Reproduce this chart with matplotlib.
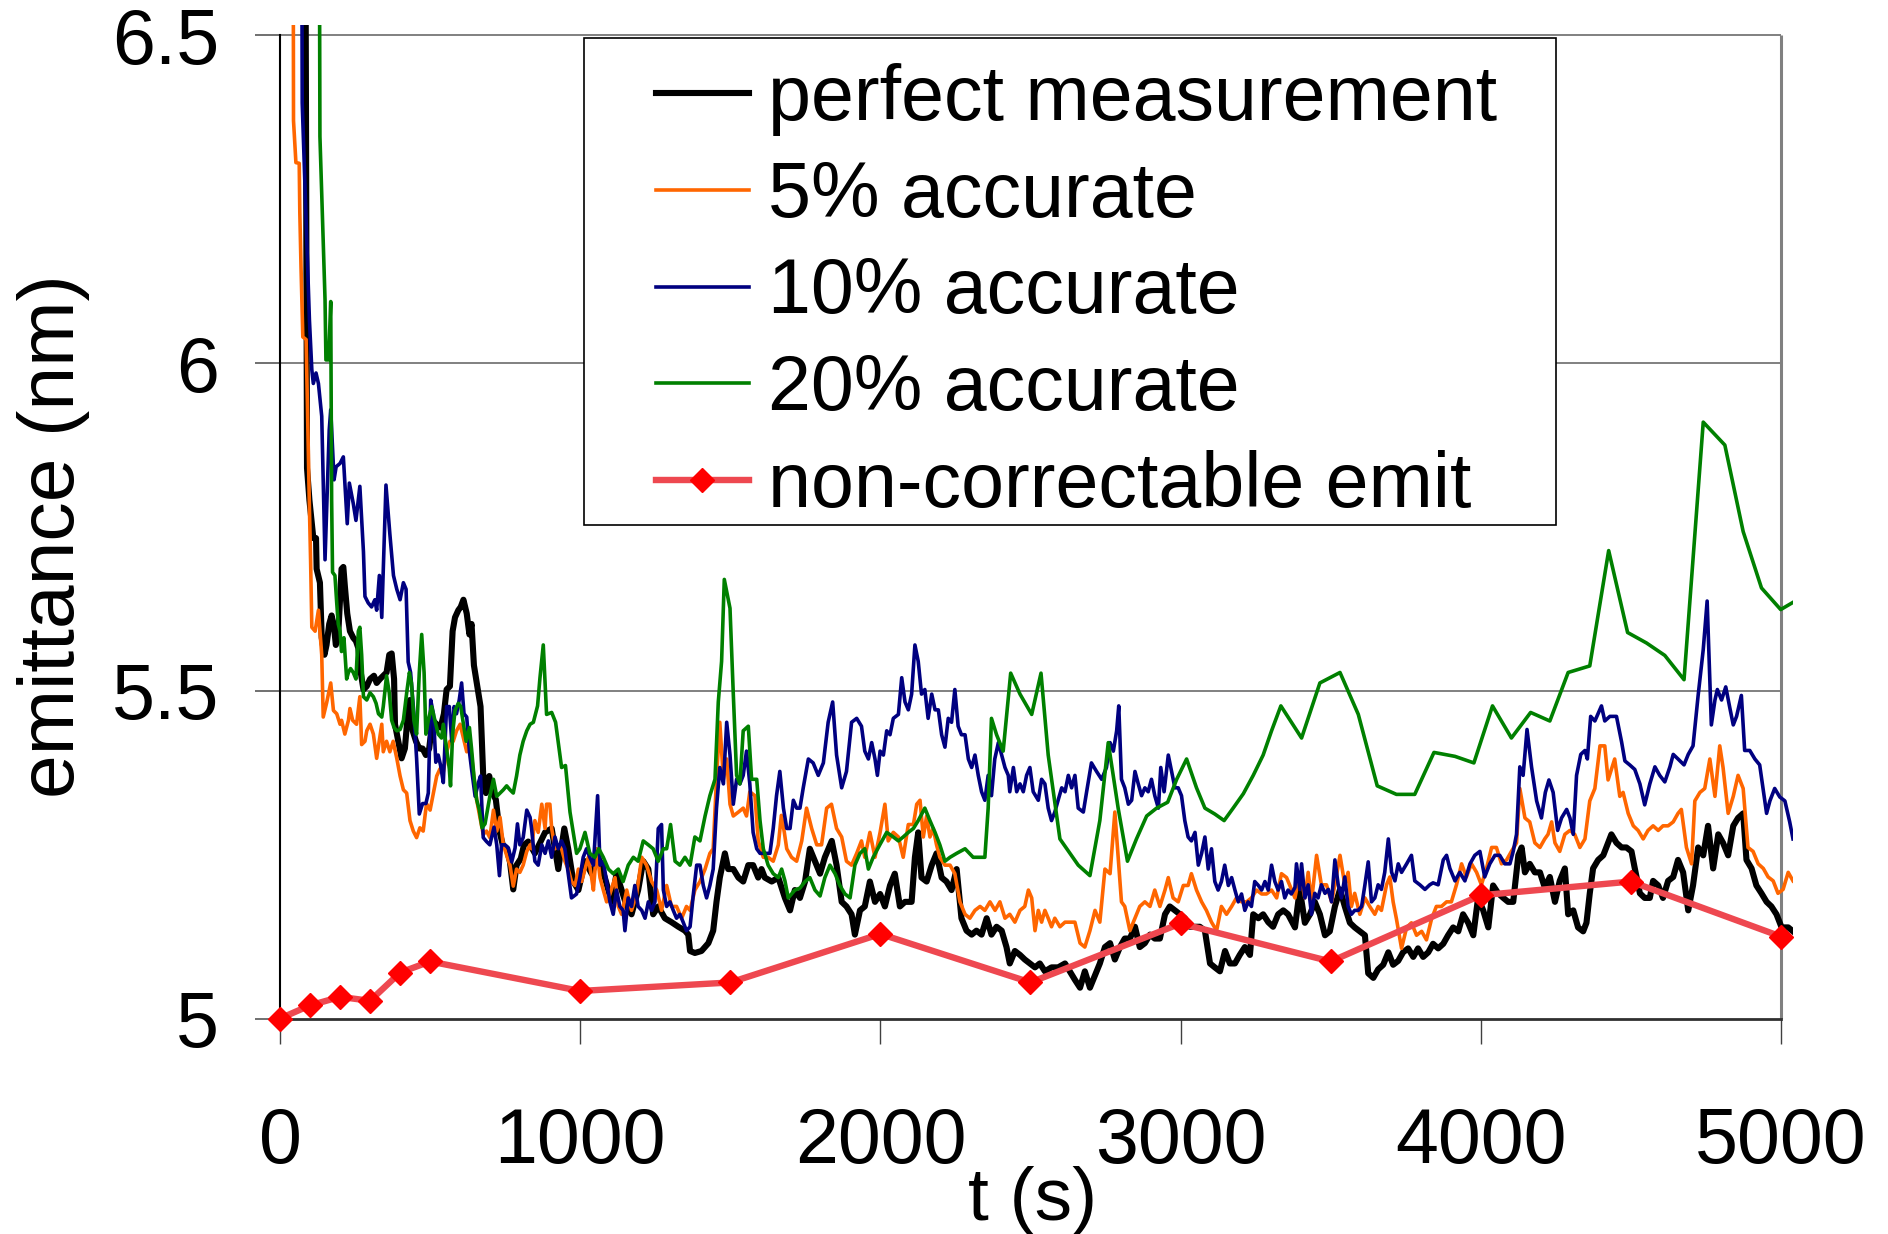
import matplotlib
matplotlib.use('Agg')
import matplotlib.pyplot as plt
from matplotlib.lines import Line2D
from matplotlib.patches import Rectangle
from matplotlib.legend_handler import HandlerLine2D

plt.rcParams['font.family'] = ['Liberation Sans', 'DejaVu Sans']

# ---------------- data ----------------
labels = ['perfect measurement', '5% accurate', '10% accurate',
          '20% accurate', 'non-correctable emit']
x_ticks = [0, 1000, 2000, 3000, 4000, 5000]
y_ticks = [5.0, 5.5, 6.0, 6.5]
y_ticklabels = ['5', '5.5', '6', '6.5']

t_red = [0, 100, 200, 300, 400, 500, 1000, 1500, 2000, 2500, 3000, 3500, 4000, 4500, 5000]
e_red = [5.00, 5.02, 5.033, 5.027, 5.07, 5.087, 5.042, 5.055, 5.129, 5.055, 5.145, 5.087, 5.188, 5.209, 5.125]

black = [
    (0, 20.0), (90, 5.84), (98, 5.791), (111, 5.733), (120, 5.733), (122, 5.686), (133, 5.665),
    (139, 5.581), (148, 5.555), (155, 5.570), (164, 5.602), (172, 5.615), (180, 5.597), (186, 5.570),
    (194, 5.586), (200, 5.639), (205, 5.686), (211, 5.689), (216, 5.660), (224, 5.618), (233, 5.591),
    (244, 5.581), (253, 5.576), (261, 5.565), (269, 5.528), (278, 5.502), (289, 5.507), (300, 5.518),
    (313, 5.523), (322, 5.512), (333, 5.518), (344, 5.523), (355, 5.528), (364, 5.555), (372, 5.557),
    (380, 5.518), (383, 5.449), (394, 5.423), (405, 5.397), (416, 5.412), (424, 5.455), (433, 5.486),
    (442, 5.439), (453, 5.423), (464, 5.412), (475, 5.412), (486, 5.402), (497, 5.412), (508, 5.455),
    (522, 5.449), (535, 5.444), (546, 5.465), (555, 5.502), (566, 5.507), (575, 5.591), (583, 5.612),
    (594, 5.623), (602, 5.628), (611, 5.639), (622, 5.618), (631, 5.586), (638, 5.602), (646, 5.539),
    (657, 5.507), (668, 5.476), (677, 5.370), (686, 5.344), (697, 5.370), (708, 5.344), (719, 5.334),
    (731, 5.286), (742, 5.265), (755, 5.260), (766, 5.239), (777, 5.197), (788, 5.234), (802, 5.244),
    (813, 5.265), (827, 5.270), (849, 5.252), (883, 5.284), (905, 5.290), (927, 5.228), (947, 5.290),
    (960, 5.259), (977, 5.209), (994, 5.196), (1016, 5.240), (1038, 5.221), (1060, 5.246), (1082, 5.215),
    (1105, 5.178), (1121, 5.221), (1138, 5.196), (1155, 5.171), (1171, 5.159), (1193, 5.196), (1210, 5.240),
    (1227, 5.228), (1243, 5.159), (1260, 5.171), (1282, 5.153), (1304, 5.147), (1327, 5.140), (1349, 5.134),
    (1360, 5.128), (1366, 5.103), (1382, 5.100), (1404, 5.103), (1427, 5.115), (1443, 5.134), (1454, 5.178),
    (1465, 5.215), (1482, 5.252), (1493, 5.228), (1510, 5.228), (1527, 5.215), (1543, 5.209), (1560, 5.234),
    (1576, 5.234), (1593, 5.215), (1604, 5.228), (1615, 5.215), (1638, 5.209), (1660, 5.215), (1682, 5.184),
    (1699, 5.165), (1715, 5.196), (1732, 5.184), (1749, 5.209), (1765, 5.259), (1782, 5.240), (1799, 5.221),
    (1815, 5.246), (1838, 5.271), (1854, 5.234), (1871, 5.178), (1887, 5.171), (1904, 5.159), (1915, 5.128),
    (1932, 5.165), (1948, 5.171), (1965, 5.209), (1982, 5.178), (1999, 5.190), (2015, 5.171), (2032, 5.203),
    (2048, 5.221), (2065, 5.171), (2082, 5.178), (2104, 5.178), (2115, 5.246), (2126, 5.284), (2137, 5.215),
    (2154, 5.209), (2171, 5.234), (2187, 5.252), (2204, 5.215), (2220, 5.209), (2237, 5.196), (2254, 5.228),
    (2270, 5.153), (2287, 5.134), (2304, 5.128), (2320, 5.134), (2337, 5.128), (2354, 5.153), (2370, 5.128),
    (2387, 5.140), (2404, 5.134), (2420, 5.109), (2431, 5.084), (2448, 5.103), (2465, 5.097), (2481, 5.090),
    (2498, 5.084), (2515, 5.078), (2531, 5.084), (2548, 5.072), (2570, 5.078), (2592, 5.078), (2615, 5.084),
    (2631, 5.072), (2648, 5.059), (2665, 5.047), (2681, 5.072), (2698, 5.047), (2715, 5.066), (2731, 5.084),
    (2748, 5.109), (2765, 5.115), (2781, 5.090), (2798, 5.109), (2814, 5.122), (2831, 5.122), (2848, 5.140),
    (2864, 5.109), (2881, 5.115), (2898, 5.128), (2914, 5.122), (2931, 5.122), (2948, 5.159), (2964, 5.171),
    (2981, 5.165), (2998, 5.159), (3014, 5.153), (3031, 5.140), (3048, 5.140), (3064, 5.140), (3081, 5.134),
    (3098, 5.084), (3114, 5.078), (3131, 5.072), (3148, 5.103), (3164, 5.084), (3181, 5.084), (3197, 5.097),
    (3214, 5.109), (3231, 5.097), (3242, 5.159), (3259, 5.153), (3275, 5.159), (3292, 5.147), (3308, 5.140),
    (3325, 5.159), (3342, 5.165), (3358, 5.159), (3381, 5.139), (3397, 5.197), (3414, 5.146), (3431, 5.159),
    (3447, 5.178), (3464, 5.159), (3481, 5.127), (3497, 5.133), (3514, 5.171), (3531, 5.197), (3547, 5.171),
    (3564, 5.146), (3580, 5.139), (3597, 5.133), (3614, 5.127), (3625, 5.069), (3642, 5.062), (3658, 5.075),
    (3675, 5.082), (3692, 5.101), (3708, 5.082), (3725, 5.088), (3741, 5.101), (3758, 5.107), (3775, 5.094),
    (3791, 5.107), (3808, 5.094), (3825, 5.101), (3841, 5.114), (3858, 5.107), (3875, 5.114), (3891, 5.127),
    (3908, 5.139), (3925, 5.133), (3941, 5.159), (3958, 5.146), (3975, 5.127), (3991, 5.184), (4008, 5.165),
    (4025, 5.139), (4041, 5.203), (4058, 5.191), (4075, 5.184), (4091, 5.178), (4108, 5.178), (4125, 5.249),
    (4136, 5.261), (4147, 5.223), (4163, 5.236), (4180, 5.223), (4197, 5.223), (4213, 5.200), (4230, 5.216),
    (4247, 5.178), (4263, 5.210), (4280, 5.229), (4291, 5.159), (4308, 5.165), (4324, 5.139), (4341, 5.133),
    (4352, 5.146), (4363, 5.191), (4374, 5.229), (4391, 5.242), (4408, 5.249), (4424, 5.268), (4435, 5.281),
    (4452, 5.268), (4469, 5.261), (4485, 5.261), (4502, 5.255), (4513, 5.229), (4530, 5.191), (4546, 5.184),
    (4563, 5.184), (4574, 5.210), (4591, 5.203), (4607, 5.184), (4624, 5.210), (4641, 5.216), (4657, 5.242),
    (4674, 5.223), (4691, 5.165), (4707, 5.203), (4724, 5.261), (4741, 5.249), (4757, 5.294), (4774, 5.229),
    (4791, 5.281), (4807, 5.268), (4824, 5.249), (4841, 5.294), (4857, 5.306), (4874, 5.313), (4885, 5.242),
    (4902, 5.229), (4918, 5.203), (4935, 5.191), (4952, 5.178), (4968, 5.171), (4985, 5.159), (5002, 5.139),
    (5024, 5.139), (5040, 5.133)]

orange = [
    (0, 20.0), (45, 6.37), (53, 6.306), (64, 6.305), (66, 6.23), (70, 6.147), (76, 6.04), (87, 6.036),
    (98, 5.78), (102, 5.697), (106, 5.597), (117, 5.591), (128, 5.623), (139, 5.555), (144, 5.460),
    (155, 5.481), (169, 5.512), (178, 5.470), (189, 5.465), (200, 5.449), (205, 5.455), (216, 5.434),
    (228, 5.455), (233, 5.473), (242, 5.455), (255, 5.449), (266, 5.491), (272, 5.418), (283, 5.423),
    (289, 5.439), (300, 5.449), (311, 5.434), (322, 5.397), (339, 5.449), (344, 5.407), (355, 5.423),
    (366, 5.407), (377, 5.423), (389, 5.397), (400, 5.370), (411, 5.349), (422, 5.344), (433, 5.302),
    (444, 5.286), (455, 5.276), (466, 5.291), (477, 5.286), (488, 5.328), (500, 5.318), (511, 5.344),
    (522, 5.370), (533, 5.381), (544, 5.376), (555, 5.407), (566, 5.423), (577, 5.423), (588, 5.439),
    (600, 5.449), (611, 5.428), (622, 5.407), (633, 5.423), (644, 5.376), (655, 5.334), (666, 5.307),
    (677, 5.281), (688, 5.286), (699, 5.276), (711, 5.318), (722, 5.286), (733, 5.307), (744, 5.265),
    (755, 5.249), (766, 5.234), (777, 5.202), (788, 5.228), (799, 5.223), (810, 5.234), (822, 5.255),
    (833, 5.265), (838, 5.259), (849, 5.302), (860, 5.284), (872, 5.327), (883, 5.290), (888, 5.327),
    (899, 5.327), (905, 5.290), (916, 5.259), (927, 5.265), (938, 5.259), (949, 5.240), (960, 5.228),
    (971, 5.209), (983, 5.203), (994, 5.228), (1005, 5.209), (1016, 5.228), (1027, 5.246), (1038, 5.215),
    (1044, 5.196), (1055, 5.259), (1066, 5.215), (1077, 5.196), (1088, 5.178), (1099, 5.190), (1116, 5.215),
    (1127, 5.171), (1138, 5.159), (1155, 5.196), (1171, 5.165), (1188, 5.190), (1205, 5.246), (1221, 5.234),
    (1238, 5.209), (1255, 5.196), (1271, 5.165), (1288, 5.203), (1304, 5.171), (1321, 5.171), (1338, 5.153),
    (1354, 5.171), (1366, 5.165), (1382, 5.196), (1399, 5.209), (1416, 5.228), (1432, 5.252), (1443, 5.259),
    (1454, 5.365), (1465, 5.452), (1477, 5.365), (1488, 5.396), (1499, 5.327), (1510, 5.309), (1527, 5.315),
    (1543, 5.321), (1554, 5.309), (1565, 5.346), (1582, 5.340), (1593, 5.271), (1610, 5.246), (1626, 5.246),
    (1643, 5.240), (1660, 5.265), (1670, 5.310), (1680, 5.284), (1688, 5.259), (1704, 5.246), (1721, 5.240),
    (1738, 5.271), (1754, 5.321), (1771, 5.290), (1788, 5.265), (1804, 5.265), (1821, 5.321), (1837, 5.327),
    (1854, 5.290), (1871, 5.277), (1887, 5.240), (1904, 5.234), (1921, 5.252), (1937, 5.271), (1948, 5.246),
    (1965, 5.284), (1982, 5.246), (1999, 5.284), (2015, 5.327), (2026, 5.271), (2043, 5.284), (2060, 5.277),
    (2076, 5.246), (2093, 5.296), (2110, 5.296), (2121, 5.327), (2132, 5.333), (2143, 5.277), (2154, 5.309),
    (2165, 5.277), (2176, 5.290), (2187, 5.265), (2198, 5.246), (2215, 5.234), (2232, 5.234), (2248, 5.221),
    (2265, 5.178), (2282, 5.159), (2298, 5.153), (2315, 5.165), (2332, 5.171), (2348, 5.165), (2365, 5.178),
    (2382, 5.165), (2398, 5.178), (2415, 5.153), (2431, 5.159), (2448, 5.147), (2465, 5.165), (2481, 5.171),
    (2493, 5.196), (2504, 5.184), (2515, 5.134), (2526, 5.165), (2537, 5.147), (2548, 5.165), (2559, 5.153),
    (2570, 5.140), (2581, 5.153), (2598, 5.140), (2615, 5.147), (2631, 5.147), (2648, 5.147), (2665, 5.115),
    (2681, 5.109), (2698, 5.134), (2715, 5.165), (2731, 5.147), (2748, 5.228), (2765, 5.221), (2781, 5.315),
    (2792, 5.246), (2803, 5.178), (2814, 5.171), (2831, 5.134), (2848, 5.153), (2864, 5.171), (2881, 5.178),
    (2898, 5.171), (2914, 5.196), (2931, 5.171), (2948, 5.196), (2959, 5.215), (2975, 5.184), (2992, 5.178),
    (3009, 5.203), (3025, 5.203), (3036, 5.221), (3053, 5.196), (3070, 5.178), (3086, 5.165), (3103, 5.147),
    (3120, 5.134), (3136, 5.171), (3153, 5.159), (3170, 5.171), (3186, 5.184), (3203, 5.178), (3220, 5.178),
    (3236, 5.184), (3253, 5.196), (3270, 5.190), (3286, 5.190), (3303, 5.196), (3320, 5.184), (3336, 5.221),
    (3353, 5.215), (3370, 5.196), (3381, 5.184), (3397, 5.223), (3414, 5.184), (3425, 5.223), (3436, 5.178),
    (3453, 5.249), (3469, 5.204), (3486, 5.204), (3503, 5.178), (3514, 5.204), (3531, 5.249), (3547, 5.204),
    (3558, 5.223), (3569, 5.171), (3580, 5.191), (3597, 5.159), (3614, 5.184), (3630, 5.171), (3647, 5.159),
    (3658, 5.171), (3669, 5.165), (3686, 5.204), (3697, 5.216), (3708, 5.178), (3719, 5.152), (3736, 5.107),
    (3753, 5.139), (3769, 5.146), (3786, 5.127), (3803, 5.133), (3819, 5.120), (3836, 5.152), (3852, 5.171),
    (3869, 5.171), (3886, 5.178), (3902, 5.178), (3919, 5.204), (3936, 5.236), (3952, 5.216), (3969, 5.236),
    (3986, 5.223), (4002, 5.204), (4019, 5.229), (4036, 5.261), (4052, 5.261), (4069, 5.236), (4086, 5.242),
    (4102, 5.255), (4119, 5.268), (4130, 5.351), (4147, 5.306), (4163, 5.300), (4180, 5.268), (4197, 5.261),
    (4213, 5.274), (4224, 5.281), (4236, 5.300), (4247, 5.268), (4263, 5.255), (4280, 5.281), (4297, 5.287),
    (4313, 5.281), (4330, 5.261), (4347, 5.274), (4363, 5.332), (4380, 5.351), (4397, 5.416), (4413, 5.416),
    (4424, 5.364), (4446, 5.396), (4463, 5.339), (4474, 5.345), (4491, 5.313), (4508, 5.294), (4524, 5.287),
    (4541, 5.274), (4557, 5.287), (4574, 5.294), (4591, 5.287), (4607, 5.294), (4624, 5.294), (4641, 5.300),
    (4657, 5.313), (4668, 5.319), (4685, 5.261), (4702, 5.236), (4713, 5.332), (4730, 5.345), (4746, 5.351),
    (4763, 5.396), (4780, 5.339), (4796, 5.416), (4807, 5.383), (4824, 5.313), (4841, 5.339), (4857, 5.371),
    (4874, 5.351), (4890, 5.261), (4907, 5.255), (4924, 5.236), (4941, 5.229), (4957, 5.216), (4974, 5.210),
    (4990, 5.191), (5007, 5.197), (5024, 5.223), (5040, 5.210)]

blue = [
    (0, 20.0), (74, 6.397), (98, 6.066), (106, 5.990), (111, 5.969), (120, 5.985), (128, 5.969),
    (139, 5.919), (150, 5.700), (164, 5.898), (169, 5.929), (180, 5.822), (187, 5.842), (200, 5.847),
    (211, 5.857), (224, 5.755), (231, 5.817), (244, 5.786), (253, 5.760), (266, 5.812), (278, 5.712),
    (283, 5.644), (294, 5.634), (305, 5.628), (316, 5.639), (322, 5.623), (331, 5.676), (339, 5.612),
    (353, 5.814), (366, 5.739), (378, 5.676), (389, 5.655), (400, 5.639), (411, 5.665), (420, 5.655),
    (427, 5.544), (435, 5.528), (446, 5.465), (455, 5.397), (464, 5.312), (475, 5.328), (486, 5.328),
    (494, 5.344), (502, 5.486), (511, 5.465), (519, 5.391), (527, 5.402), (535, 5.386), (544, 5.360),
    (555, 5.476), (564, 5.476), (572, 5.423), (580, 5.476), (588, 5.465), (597, 5.486), (605, 5.512),
    (613, 5.465), (622, 5.460), (631, 5.407), (638, 5.381), (650, 5.339), (661, 5.360), (668, 5.370),
    (677, 5.276), (688, 5.270), (699, 5.265), (713, 5.292), (722, 5.265), (731, 5.218), (738, 5.265),
    (749, 5.265), (761, 5.260), (772, 5.239), (783, 5.260), (791, 5.297), (799, 5.265), (810, 5.276),
    (822, 5.318), (833, 5.307), (838, 5.290), (849, 5.240), (860, 5.234), (872, 5.265), (883, 5.252),
    (894, 5.271), (905, 5.246), (916, 5.277), (927, 5.259), (938, 5.271), (949, 5.259), (960, 5.221),
    (971, 5.184), (988, 5.190), (999, 5.215), (1010, 5.246), (1021, 5.259), (1032, 5.246), (1044, 5.234),
    (1058, 5.340), (1066, 5.234), (1077, 5.240), (1088, 5.209), (1099, 5.178), (1110, 5.159), (1121, 5.196),
    (1132, 5.171), (1143, 5.165), (1149, 5.134), (1160, 5.184), (1171, 5.171), (1182, 5.203), (1193, 5.171),
    (1205, 5.165), (1216, 5.153), (1227, 5.178), (1238, 5.165), (1249, 5.178), (1260, 5.290), (1271, 5.296),
    (1277, 5.196), (1288, 5.171), (1299, 5.178), (1310, 5.165), (1321, 5.153), (1332, 5.159), (1343, 5.147),
    (1354, 5.134), (1366, 5.140), (1377, 5.190), (1388, 5.234), (1399, 5.234), (1410, 5.203), (1421, 5.184),
    (1432, 5.203), (1443, 5.228), (1454, 5.321), (1465, 5.383), (1477, 5.358), (1488, 5.452), (1499, 5.402),
    (1510, 5.327), (1521, 5.365), (1532, 5.358), (1543, 5.371), (1554, 5.408), (1565, 5.358), (1576, 5.284),
    (1588, 5.259), (1599, 5.252), (1615, 5.252), (1632, 5.252), (1643, 5.290), (1654, 5.340), (1665, 5.377),
    (1677, 5.321), (1688, 5.290), (1699, 5.290), (1710, 5.333), (1721, 5.321), (1732, 5.321), (1743, 5.352),
    (1760, 5.396), (1776, 5.390), (1793, 5.371), (1810, 5.390), (1826, 5.452), (1841, 5.483), (1854, 5.402),
    (1871, 5.352), (1887, 5.377), (1904, 5.452), (1921, 5.458), (1937, 5.446), (1948, 5.408), (1960, 5.396),
    (1971, 5.421), (1982, 5.396), (1990, 5.371), (1999, 5.408), (2010, 5.402), (2021, 5.439), (2032, 5.433),
    (2043, 5.458), (2060, 5.464), (2071, 5.520), (2082, 5.483), (2093, 5.471), (2104, 5.495), (2115, 5.570),
    (2126, 5.545), (2137, 5.495), (2148, 5.502), (2159, 5.458), (2171, 5.495), (2182, 5.471), (2193, 5.471),
    (2204, 5.433), (2215, 5.414), (2226, 5.458), (2237, 5.452), (2248, 5.502), (2259, 5.446), (2270, 5.433),
    (2282, 5.433), (2293, 5.396), (2304, 5.383), (2315, 5.402), (2326, 5.371), (2337, 5.346), (2348, 5.333),
    (2359, 5.371), (2370, 5.340), (2381, 5.396), (2393, 5.421), (2404, 5.402), (2415, 5.383), (2426, 5.371),
    (2431, 5.346), (2443, 5.383), (2454, 5.346), (2465, 5.358), (2476, 5.346), (2487, 5.371), (2498, 5.383),
    (2509, 5.346), (2526, 5.333), (2537, 5.365), (2548, 5.358), (2559, 5.321), (2570, 5.302), (2581, 5.315),
    (2592, 5.333), (2604, 5.352), (2615, 5.346), (2626, 5.371), (2637, 5.352), (2648, 5.371), (2659, 5.321),
    (2676, 5.315), (2687, 5.346), (2703, 5.390), (2720, 5.377), (2737, 5.365), (2753, 5.383), (2765, 5.421),
    (2776, 5.408), (2787, 5.439), (2794, 5.477), (2803, 5.365), (2814, 5.352), (2826, 5.327), (2837, 5.333),
    (2848, 5.377), (2859, 5.358), (2870, 5.340), (2881, 5.352), (2892, 5.346), (2903, 5.365), (2914, 5.340),
    (2926, 5.321), (2934, 5.383), (2945, 5.346), (2959, 5.402), (2970, 5.377), (2981, 5.352), (2992, 5.352),
    (3003, 5.340), (3014, 5.302), (3025, 5.277), (3036, 5.271), (3048, 5.284), (3059, 5.234), (3070, 5.252),
    (3081, 5.277), (3092, 5.228), (3103, 5.259), (3114, 5.209), (3125, 5.196), (3136, 5.209), (3147, 5.234),
    (3159, 5.203), (3170, 5.215), (3181, 5.196), (3192, 5.178), (3203, 5.190), (3214, 5.165), (3225, 5.178),
    (3236, 5.171), (3247, 5.209), (3259, 5.203), (3270, 5.196), (3281, 5.209), (3292, 5.196), (3303, 5.234),
    (3314, 5.209), (3325, 5.196), (3336, 5.209), (3347, 5.184), (3358, 5.196), (3369, 5.190), (3381, 5.200),
    (3386, 5.236), (3397, 5.197), (3403, 5.236), (3414, 5.184), (3425, 5.204), (3436, 5.159), (3447, 5.191),
    (3458, 5.184), (3469, 5.204), (3481, 5.191), (3492, 5.197), (3503, 5.178), (3514, 5.242), (3525, 5.204),
    (3536, 5.184), (3547, 5.216), (3558, 5.171), (3569, 5.159), (3580, 5.165), (3592, 5.165), (3603, 5.171),
    (3614, 5.204), (3625, 5.239), (3636, 5.178), (3647, 5.184), (3658, 5.204), (3669, 5.197), (3680, 5.223),
    (3692, 5.274), (3703, 5.223), (3714, 5.210), (3725, 5.236), (3736, 5.223), (3753, 5.236), (3769, 5.249),
    (3780, 5.210), (3797, 5.204), (3814, 5.197), (3830, 5.204), (3841, 5.207), (3858, 5.204), (3875, 5.242),
    (3886, 5.249), (3897, 5.229), (3914, 5.210), (3930, 5.223), (3947, 5.210), (3964, 5.236), (3980, 5.249),
    (3997, 5.255), (4013, 5.216), (4030, 5.236), (4047, 5.249), (4063, 5.249), (4080, 5.236), (4097, 5.236),
    (4108, 5.255), (4119, 5.281), (4130, 5.384), (4141, 5.371), (4154, 5.441), (4169, 5.384), (4186, 5.332),
    (4202, 5.306), (4215, 5.345), (4227, 5.364), (4241, 5.345), (4256, 5.287), (4269, 5.306), (4286, 5.319),
    (4297, 5.306), (4308, 5.281), (4319, 5.371), (4333, 5.403), (4347, 5.409), (4355, 5.396), (4366, 5.461),
    (4380, 5.454), (4402, 5.477), (4413, 5.454), (4430, 5.461), (4452, 5.461), (4469, 5.422), (4480, 5.393),
    (4496, 5.387), (4513, 5.380), (4530, 5.358), (4546, 5.326), (4563, 5.358), (4580, 5.384), (4596, 5.371),
    (4613, 5.361), (4630, 5.384), (4641, 5.403), (4657, 5.396), (4677, 5.387), (4691, 5.403), (4707, 5.416),
    (4724, 5.493), (4741, 5.563), (4754, 5.637), (4768, 5.448), (4780, 5.486), (4788, 5.502), (4802, 5.486),
    (4816, 5.506), (4830, 5.473), (4841, 5.448), (4852, 5.461), (4868, 5.493), (4879, 5.409), (4896, 5.409),
    (4913, 5.396), (4929, 5.387), (4952, 5.313), (4963, 5.332), (4979, 5.351), (4996, 5.338), (5013, 5.332),
    (5029, 5.300), (5040, 5.274)]

green = [
    (0, 30.0), (133, 6.346), (150, 6.097), (153, 6.005), (162, 6.005), (169, 6.094), (172, 5.791),
    (175, 5.681), (183, 5.676), (189, 5.634), (194, 5.602), (200, 5.591), (205, 5.560), (213, 5.581),
    (222, 5.518), (228, 5.528), (235, 5.534), (244, 5.528), (253, 5.518), (261, 5.591), (266, 5.597),
    (272, 5.555), (278, 5.491), (289, 5.486), (300, 5.497), (311, 5.491), (320, 5.481), (328, 5.465),
    (339, 5.460), (344, 5.476), (355, 5.523), (364, 5.497), (372, 5.455), (380, 5.444), (389, 5.439),
    (400, 5.441), (411, 5.455), (422, 5.497), (431, 5.528), (438, 5.512), (446, 5.455), (455, 5.434),
    (464, 5.528), (472, 5.586), (480, 5.528), (486, 5.434), (494, 5.455), (505, 5.476), (516, 5.455),
    (527, 5.434), (538, 5.428), (544, 5.449), (555, 5.412), (564, 5.381), (568, 5.355), (575, 5.434),
    (583, 5.470), (594, 5.481), (602, 5.476), (611, 5.449), (620, 5.423), (631, 5.444), (638, 5.412),
    (646, 5.370), (655, 5.334), (664, 5.318), (673, 5.291), (683, 5.297), (691, 5.318), (699, 5.339),
    (711, 5.365), (722, 5.339), (733, 5.344), (744, 5.349), (755, 5.355), (766, 5.349), (777, 5.344),
    (788, 5.370), (799, 5.402), (810, 5.423), (822, 5.439), (833, 5.449), (844, 5.452), (858, 5.477),
    (866, 5.520), (877, 5.570), (888, 5.464), (905, 5.467), (918, 5.452), (927, 5.421), (938, 5.383),
    (951, 5.386), (966, 5.315), (977, 5.284), (988, 5.252), (999, 5.259), (1016, 5.284), (1032, 5.252),
    (1049, 5.246), (1062, 5.259), (1077, 5.246), (1094, 5.228), (1110, 5.221), (1127, 5.228), (1143, 5.209),
    (1160, 5.234), (1177, 5.246), (1193, 5.240), (1210, 5.271), (1227, 5.265), (1243, 5.259), (1260, 5.240),
    (1277, 5.259), (1288, 5.259), (1301, 5.296), (1316, 5.240), (1332, 5.234), (1349, 5.246), (1366, 5.234),
    (1382, 5.277), (1399, 5.271), (1416, 5.309), (1432, 5.340), (1449, 5.365), (1460, 5.483), (1471, 5.545),
    (1480, 5.670), (1499, 5.626), (1510, 5.495), (1521, 5.371), (1532, 5.358), (1543, 5.439), (1560, 5.446),
    (1571, 5.365), (1588, 5.365), (1599, 5.302), (1610, 5.259), (1626, 5.234), (1643, 5.221), (1660, 5.215),
    (1671, 5.228), (1682, 5.210), (1693, 5.184), (1715, 5.196), (1732, 5.199), (1749, 5.209), (1765, 5.215),
    (1782, 5.196), (1799, 5.187), (1815, 5.215), (1832, 5.234), (1849, 5.221), (1865, 5.203), (1882, 5.190),
    (1899, 5.184), (1915, 5.234), (1932, 5.252), (1948, 5.259), (1960, 5.228), (1976, 5.246), (1998, 5.265),
    (2021, 5.284), (2043, 5.277), (2060, 5.271), (2076, 5.277), (2093, 5.284), (2110, 5.290), (2126, 5.302),
    (2148, 5.321), (2165, 5.302), (2182, 5.284), (2198, 5.265), (2215, 5.240), (2232, 5.246), (2254, 5.252),
    (2282, 5.259), (2309, 5.246), (2332, 5.246), (2348, 5.246), (2359, 5.321), (2370, 5.458), (2387, 5.433),
    (2409, 5.408), (2434, 5.527), (2465, 5.495), (2504, 5.464), (2535, 5.527), (2559, 5.402), (2598, 5.274),
    (2659, 5.234), (2698, 5.218), (2731, 5.302), (2759, 5.421), (2792, 5.321), (2823, 5.240), (2853, 5.274),
    (2887, 5.309), (2920, 5.321), (2957, 5.330), (2987, 5.365), (3020, 5.396), (3053, 5.352), (3081, 5.321),
    (3114, 5.312), (3145, 5.302), (3175, 5.321), (3209, 5.343), (3242, 5.371), (3275, 5.402), (3303, 5.439),
    (3334, 5.477), (3403, 5.428), (3464, 5.512), (3531, 5.528), (3592, 5.464), (3655, 5.355), (3719, 5.342),
    (3780, 5.342), (3844, 5.406), (3914, 5.400), (3977, 5.390), (4039, 5.477), (4102, 5.428), (4166, 5.467),
    (4230, 5.454), (4291, 5.528), (4363, 5.538), (4426, 5.714), (4489, 5.589), (4552, 5.573), (4613, 5.554),
    (4677, 5.517), (4741, 5.910), (4813, 5.875), (4874, 5.743), (4935, 5.657), (4999, 5.624), (5040, 5.635)]

t_black = [p[0] for p in black]; e_black = [p[1] for p in black]
t_orange = [p[0] for p in orange]; e_orange = [p[1] for p in orange]
t_blue = [p[0] for p in blue]; e_blue = [p[1] for p in blue]
t_green = [p[0] for p in green]; e_green = [p[1] for p in green]

# ---------------- figure ----------------
W, H = 1888, 1234
FS = 55.5
fig = plt.figure(figsize=(W / 100, H / 100), dpi=100)
ax = fig.add_axes([280 / W, 1 - 1018.5 / H, (1793 - 280) / W, (1018.5 - 25) / H])
ax.set_xlim(0, 5040)
ax.set_ylim(5.0, 6.516)

for s in ('top', 'right'):
    ax.spines[s].set_visible(False)
ax.spines['left'].set_bounds(5.0, 6.5)
ax.spines['left'].set_linewidth(1.5)
ax.spines['left'].set_color('black')
ax.spines['bottom'].set_bounds(0, 5000)
ax.spines['bottom'].set_linewidth(2.0)
ax.spines['bottom'].set_color('#303030')

ax.hlines([5.5, 6.0, 6.5], 0, 5000, colors='#808080', lw=1.4, zorder=1)
ax.vlines(5000, 5.0, 6.5, colors='#808080', lw=2.2, zorder=1)

ax.set_xticks(x_ticks)
ax.set_xticklabels([str(v) for v in x_ticks])
ax.set_yticks(y_ticks)
ax.set_yticklabels(y_ticklabels)
ax.tick_params(axis='x', length=18, width=1.0, color='#404040', pad=45, labelsize=FS)
ax.tick_params(axis='y', length=18, width=1.4, color='#707070', pad=26, labelsize=FS)

l_black, = ax.plot(t_black, e_black, color='black', lw=4.4, zorder=3)
l_orange, = ax.plot(t_orange, e_orange, color='#FF6600', lw=2.6, zorder=4)
l_blue, = ax.plot(t_blue, e_blue, color='#000080', lw=2.6, zorder=5)
l_green, = ax.plot(t_green, e_green, color='#008000', lw=2.6, zorder=6)
l_red, = ax.plot(t_red, e_red, color='#EE4850', lw=4.6, marker='D', markersize=12.5,
                 markerfacecolor='#FF0000', markeredgecolor='#FF0000', markeredgewidth=1,
                 zorder=7, clip_on=False)

# legend frame drawn as a rectangle at the reference position
frame = Rectangle((584 / W, 1 - 525 / H), (1556 - 584) / W, (525 - 38.5) / H,
                  transform=fig.transFigure, facecolor='white', edgecolor='black',
                  linewidth=1.2, zorder=9, clip_on=False)
ax.add_patch(frame)

leg = ax.legend([l_black, l_orange, l_blue, l_green, l_red], labels,
                loc='upper left', mode='expand',
                bbox_to_anchor=(584 / W, 1 - 525 / H, (1556 - 584) / W, (525 - 38.5) / H),
                bbox_transform=fig.transFigure, frameon=False,
                fontsize=FS, borderpad=0.32,
                handlelength=1.82, handletextpad=0.25, labelspacing=0.307,
                borderaxespad=0, handler_map={Line2D: HandlerLine2D(xpad=0.61)})
leg.set_zorder(10)

fig.text(54 / W, 1 - 536 / H, 'emittance (nm)', rotation=90, ha='center', va='center', fontsize=56.5)
fig.text(1033 / W, 1 - 1220 / H, 't (s)', ha='center', va='baseline', fontsize=54)

fig.savefig('out.png', dpi=100, facecolor='white')
